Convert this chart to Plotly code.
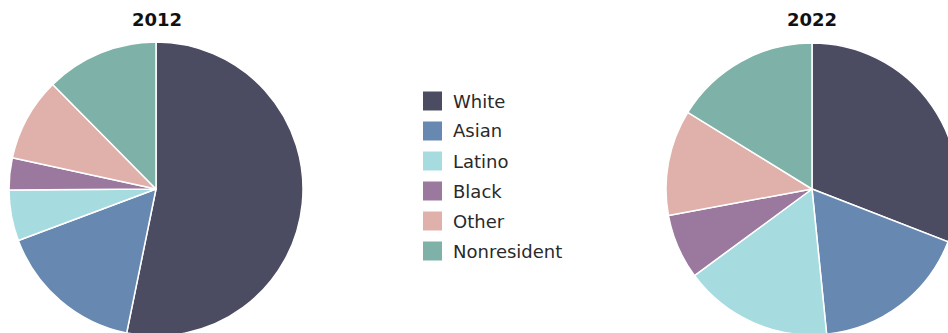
import plotly.graph_objects as go

# ---- data ----
categories = ["White", "Asian", "Latino", "Black", "Other", "Nonresident"]
share_2012 = [53.2, 16.1, 5.6, 3.5, 9.2, 12.4]
share_2022 = [30.9, 17.5, 16.5, 7.2, 11.7, 16.2]
years = ["2012", "2022"]
colors = ["#4b4c62", "#6788b0", "#a6dce0", "#9b789e", "#e0b1aa", "#7eb1a7"]

W, H = 970, 336
FONT = "DejaVu Sans, Liberation Sans, Arial, sans-serif"

def px_x(x):
    return x / W

def px_y(y):
    return 1 - y / H

fig = go.Figure()

pie_domains = [
    dict(x=[px_x(9), px_x(303)], y=[0, px_y(42)]),
    dict(x=[px_x(666), px_x(958)], y=[0, px_y(42)]),
]
title_x = [157, 812]

for yr, vals, dom, tx in zip(years, [share_2012, share_2022], pie_domains, title_x):
    fig.add_trace(go.Pie(
        labels=categories, values=vals, sort=False, direction="clockwise",
        rotation=0, textinfo="none", showlegend=False, domain=dom,
        marker=dict(colors=colors, line=dict(color="white", width=1.5)),
        name=yr,
    ))
    fig.add_annotation(x=px_x(tx), y=px_y(19), xref="paper", yref="paper",
                       text="<b>%s</b>" % yr, showarrow=False,
                       xanchor="center", yanchor="middle",
                       font=dict(size=18, color="#111111", family=FONT))

# manual legend (square swatches)
for i, (cat, col) in enumerate(zip(categories, colors)):
    cy = 101 + 30 * i
    fig.add_shape(type="rect", xref="paper", yref="paper",
                  x0=px_x(423), x1=px_x(442), y0=px_y(cy - 9.5), y1=px_y(cy + 9.5),
                  fillcolor=col, line=dict(width=0))
    fig.add_annotation(x=px_x(451), y=px_y(cy), xref="paper", yref="paper",
                       text=cat, showarrow=False, xanchor="left", yanchor="middle",
                       font=dict(size=18, color="#2a2a2a", family=FONT))

fig.update_layout(
    width=W, height=H,
    margin=dict(l=0, r=0, t=0, b=0),
    paper_bgcolor="white", plot_bgcolor="white",
    showlegend=False,
)

fig.write_html("out.html", config={"displayModeBar": False},
               post_script="document.body.style.margin='0';document.body.style.overflow='hidden';")
